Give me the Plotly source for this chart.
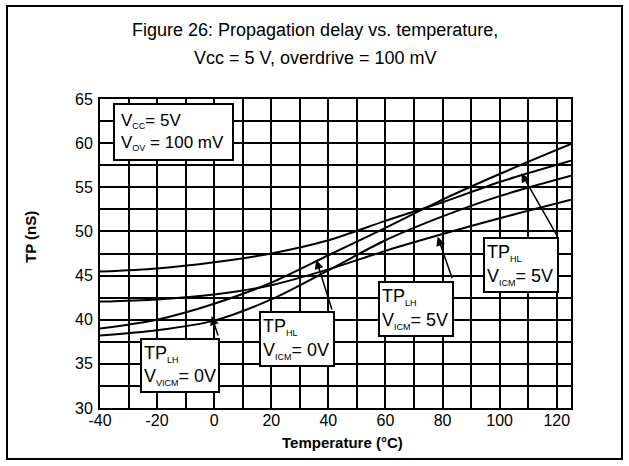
import plotly.graph_objects as go

# Data
temps = [-40, -20, 0, 20, 40, 60, 80, 100, 125]
tp_hl_5v = [45.45, 45.8, 46.5, 47.5, 49.0, 51.2, 53.3, 55.6, 58.0]
tp_hl_0v = [39.0, 40.0, 41.8, 44.2, 47.3, 50.4, 53.6, 56.5, 59.9]
tp_lh_5v = [42.05, 42.3, 42.85, 43.9, 45.7, 47.8, 49.7, 51.5, 53.6]
tp_lh_0v = [38.2, 38.8, 39.9, 42.3, 45.6, 49.0, 51.7, 54.0, 56.3]

x_ticks = [-40, -20, 0, 20, 40, 60, 80, 100, 120]
x_tick_text = ["-40", "-20", "0", "20", "40", "60", "80", "100", "120"]
y_ticks = [30, 35, 40, 45, 50, 55, 60, 65]

W, H = 629, 466
L, R, T, B = 100, 571, 99, 408
FONT = "Liberation Sans, Arial, sans-serif"


def P(px, py):
    return (px - L) / (R - L), (B - py) / (B - T)


fig = go.Figure()
for ys in [tp_hl_5v, tp_hl_0v, tp_lh_5v, tp_lh_0v]:
    fig.add_trace(go.Scatter(x=temps, y=ys, mode="lines",
                             line=dict(color="black", width=2, shape="spline", smoothing=0.8),
                             showlegend=False, hoverinfo="skip"))

annotations = []


def box(px0, py0, px1, py1, text, size, pad=2):
    x, y = P(px0, py0)
    annotations.append(dict(xref="paper", yref="paper", x=x, y=y, xanchor="left", yanchor="top",
                            text=text, showarrow=False, align="left", valign="middle",
                            width=px1 - px0 - 4 - 2 * pad, height=py1 - py0 - 4 - 2 * pad,
                            bgcolor="white", bordercolor="black", borderwidth=2, borderpad=pad,
                            font=dict(family=FONT, size=size, color="black")))


def sub(s):
    return '<sub><span style="font-size:9px">%s</span></sub>' % s


box(113, 103, 234, 161, "V" + sub("CC") + "= 5V<br>V" + sub("OV") + " = 100 mV", 17, pad=6)
box(140, 338, 220, 393, "TP" + sub("LH") + "<br>V" + sub("VICM") + "= 0V", 18)
box(259, 311, 335, 367, "TP" + sub("HL") + "<br>V" + sub("ICM") + "= 0V", 18)
box(378, 281, 454, 337, "TP" + sub("LH") + "<br>V" + sub("ICM") + "= 5V", 18)
box(483, 237, 559, 293, "TP" + sub("HL") + "<br>V" + sub("ICM") + "= 5V", 18)

# arrows: tip in data coords, tail as pixel offset
arrows = [(-0.9, 40.42, 7, 21), (35.8, 46.77, 16, 51), (78.3, 49.4, 15, 43), (107.6, 56.6, 36, 63)]
for tx, ty, ax, ay in arrows:
    annotations.append(dict(x=tx, y=ty, xref="x", yref="y", ax=ax, ay=ay, text="",
                            showarrow=True, arrowhead=2, arrowsize=1.2, arrowwidth=1.5,
                            arrowcolor="black"))


def label(px, py, text, size, angle=0):
    x, y = P(px, py)
    annotations.append(dict(xref="paper", yref="paper", x=x, y=y, xanchor="center", yanchor="middle",
                            text=text, textangle=angle, showarrow=False,
                            font=dict(family=FONT, size=size, color="black")))


label(315, 30, "Figure 26: Propagation delay vs. temperature,", 18)
label(315, 58, "Vcc = 5 V, overdrive = 100 mV", 18)
label(342, 442, "<b>Temperature (°C)</b>", 15)
label(30, 237, "<b>TP (nS)</b>", 15, angle=-90)

bx0, by0 = P(7, 6)
bx1, by1 = P(622, 459)
shapes = [dict(type="rect", xref="paper", yref="paper", x0=bx0, y0=by0, x1=bx1, y1=by1,
               line=dict(color="black", width=2), layer="below")]

axis_common = dict(showgrid=True, gridcolor="black", gridwidth=2, zeroline=False,
                   showline=True, linecolor="black", linewidth=2, mirror=True,
                   ticks="", tickfont=dict(family=FONT, size=16, color="black"))

fig.update_layout(
    width=W, height=H, autosize=False,
    margin=dict(l=L, r=W - R, t=T, b=H - B, pad=0),
    paper_bgcolor="white", plot_bgcolor="white",
    xaxis=dict(range=[-40, 125], tickvals=x_ticks, ticktext=x_tick_text, ticklabelstandoff=-3,
               minor=dict(dtick=10, tick0=-40, showgrid=True, gridcolor="black", gridwidth=2),
               **axis_common),
    yaxis=dict(range=[30, 65], tickvals=y_ticks, ticklabelstandoff=2,
               minor=dict(dtick=2.5, tick0=30, showgrid=True, gridcolor="black", gridwidth=2),
               **axis_common),
    annotations=annotations, shapes=shapes,
)

fig.write_html("out.html", config={"displayModeBar": False},
               post_script="document.body.style.margin='0';document.body.style.padding='0';")
